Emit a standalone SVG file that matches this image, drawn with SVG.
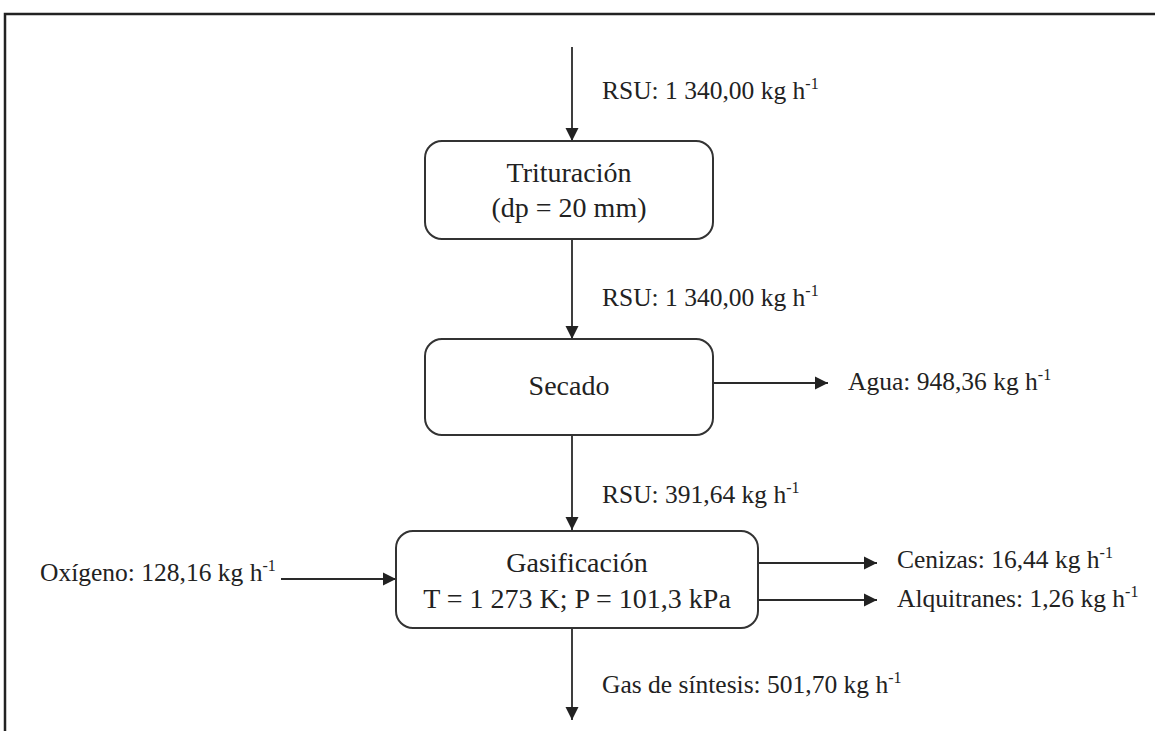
<svg xmlns="http://www.w3.org/2000/svg" width="1155" height="731" viewBox="0 0 1155 731">
<style>
  .box{fill:#fff;stroke:#333;stroke-width:2}
  .t{font-family:"Liberation Serif","Times New Roman",serif;fill:#222}
  .bt{font-size:28px;text-anchor:middle}
  .lb{font-size:25.5px}
  .sup{font-size:16px}
  .c{stroke:#2a2a2a;stroke-width:1.8;fill:none;marker-end:url(#ah)}
</style>
<defs>
  <marker id="ah" markerUnits="userSpaceOnUse" markerWidth="14" markerHeight="14" viewBox="0 0 14 14" refX="13" refY="7" orient="auto">
    <path d="M0,0.5 L13,7 L0,13.5 Z" fill="#222"/>
  </marker>
</defs>
<rect width="1155" height="731" fill="#fff"/>
<path d="M5,731 V14 H1155" fill="none" stroke="#222" stroke-width="2.5"/>
<g id="connectors">
  <line class="c" x1="572" y1="47" x2="572" y2="141"/>
  <line class="c" x1="572" y1="239" x2="572" y2="339"/>
  <line class="c" x1="713" y1="383" x2="828" y2="383"/>
  <line class="c" x1="572" y1="435" x2="572" y2="530"/>
  <line class="c" x1="281" y1="579" x2="396" y2="579"/>
  <line class="c" x1="758" y1="563" x2="877" y2="563"/>
  <line class="c" x1="758" y1="600" x2="877" y2="600"/>
  <line class="c" x1="572" y1="628" x2="572" y2="720"/>
</g>
<g id="trituracion">
  <rect class="box" x="425" y="141" width="288" height="98" rx="17"/>
  <text class="t bt" x="569" y="182">Trituración</text>
  <text class="t bt" x="569" y="217">(dp = 20 mm)</text>
</g>
<g id="secado">
  <rect class="box" x="425" y="339" width="288" height="96" rx="17"/>
  <text class="t bt" x="569" y="395">Secado</text>
</g>
<g id="gasificacion">
  <rect class="box" x="396" y="531" width="362" height="97" rx="17"/>
  <text class="t bt" x="577" y="572">Gasificación</text>
  <text class="t bt" x="577" y="608">T = 1 273 K; P = 101,3 kPa</text>
</g>
<g id="labels">
  <text class="t lb" x="602" y="99">RSU: 1 340,00 kg h<tspan class="sup" dy="-10">-1</tspan></text>
  <text class="t lb" x="602" y="306">RSU: 1 340,00 kg h<tspan class="sup" dy="-10">-1</tspan></text>
  <text class="t lb" x="848" y="390">Agua: 948,36 kg h<tspan class="sup" dy="-10">-1</tspan></text>
  <text class="t lb" x="602" y="503">RSU: 391,64 kg h<tspan class="sup" dy="-10">-1</tspan></text>
  <text class="t lb" x="40" y="581">Oxígeno: 128,16 kg h<tspan class="sup" dy="-10">-1</tspan></text>
  <text class="t lb" x="897" y="568">Cenizas: 16,44 kg h<tspan class="sup" dy="-10">-1</tspan></text>
  <text class="t lb" x="897" y="607">Alquitranes: 1,26 kg h<tspan class="sup" dy="-10">-1</tspan></text>
  <text class="t lb" x="602" y="693">Gas de síntesis: 501,70 kg h<tspan class="sup" dy="-10">-1</tspan></text>
</g>
</svg>
